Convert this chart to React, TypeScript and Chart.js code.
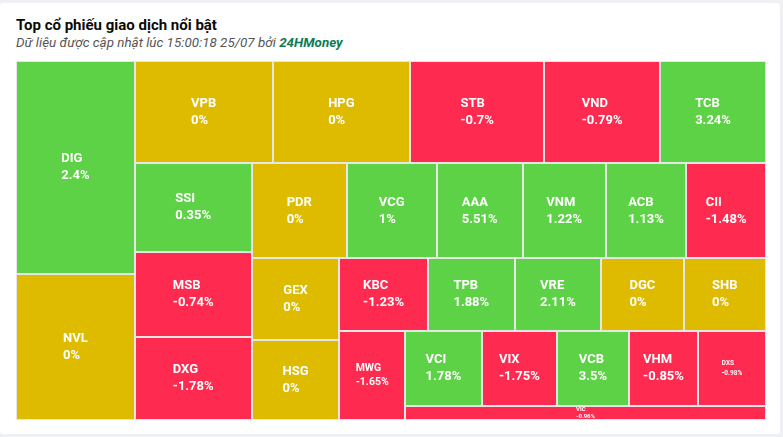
import { useEffect, useRef } from "react";
import { Chart, registerables } from "chart.js";

Chart.register(...registerables);

// ---- Data ----
const tickers = [
  "DIG", "NVL", "VPB", "HPG", "STB", "VND", "TCB", "SSI", "MSB", "DXG",
  "PDR", "VCG", "AAA", "VNM", "ACB", "CII", "GEX", "HSG", "KBC", "TPB",
  "VRE", "DGC", "SHB", "MWG", "VCI", "VIX", "VCB", "VHM", "DXS", "VIC",
];
const tradingValues = [
  253.2, 173.0, 141.2, 140.5, 137.4, 118.4, 108.4, 103.4, 100.2, 96.8,
  90.3, 85.5, 81.7, 78.9, 76.6, 75.7, 71.6, 70.1, 64.3, 63.3,
  62.7, 60.0, 59.9, 58.5, 57.5, 56.5, 54.0, 51.8, 51.0, 50.5,
];
const changes = [
  2.4, 0, 0, 0, -0.7, -0.79, 3.24, 0.35, -0.74, -1.78,
  0, 1, 5.51, 1.22, 1.13, -1.48, 0, 0, -1.23, 1.88,
  2.11, 0, 0, -1.65, 1.78, -1.75, 3.5, -0.85, -0.98, -0.96,
];

// ---- Styles ----
const UP = "#5ed246";
const FLAT = "#dfbb00";
const DOWN = "#ff2a50";
const BORDER = "#e6e6e6";
const AREA_W = 750;
const AREA_H = 359;
// [font size, line gap] for labels that the source renders smaller
const labelFontOverride: Record<string, [number, number]> = {
  MWG: [10.5, 13.5],
  DXS: [6.5, 10],
  VIC: [6, 6.5],
};

type Rect = { x: number; y: number; w: number; h: number };

// Squarified layout with alternating direction (Highcharts-style)
function layoutTreemap(values: number[], W: number, H: number): Rect[] {
  const total = values.reduce((a, b) => a + b, 0);
  const out: Rect[] = [];
  const plot = { x: 0, y: 0 };
  const ar = (a: number, b: number) => Math.max(a / b, b / a);
  const g: any = {
    height: H, width: W, direction: 0, total: 0,
    nW: 0, lW: 0, nH: 0, lH: 0, elArr: [] as number[],
    lP: { total: 0, lH: 0, nH: 0, lW: 0, nW: 0, nR: 0, lR: 0 },
  };
  const addElement = (el: number) => {
    g.lP.total = g.elArr[g.elArr.length - 1];
    g.total = g.total + el;
    if (g.direction === 0) {
      g.lW = g.nW;
      g.lP.lH = g.lP.total / g.lW;
      g.lP.lR = ar(g.lW, g.lP.lH);
      g.nW = g.total / g.height;
      g.lP.nH = g.lP.total / g.nW;
      g.lP.nR = ar(g.nW, g.lP.nH);
    } else {
      g.lH = g.nH;
      g.lP.lW = g.lP.total / g.lH;
      g.lP.lR = ar(g.lP.lW, g.lH);
      g.nH = g.total / g.width;
      g.lP.nW = g.lP.total / g.nH;
      g.lP.nR = ar(g.lP.nW, g.nH);
    }
    g.elArr.push(el);
  };
  const calc = (last: boolean) => {
    let gW = g.lW, gH = g.lH, keep: number | undefined;
    const end = g.elArr.length - 1;
    if (last) { gW = g.nW; gH = g.nH; } else { keep = g.elArr[end]; }
    g.elArr.forEach((p: number, i: number) => {
      if (last || i < end) {
        let pW: number, pH: number;
        if (g.direction === 0) { pW = gW; pH = p / pW; } else { pH = gH; pW = p / pH; }
        out.push({ x: plot.x, y: plot.y, w: pW, h: pH });
        if (g.direction === 0) plot.y += pH; else plot.x += pW;
      }
    });
    g.nW = 0; g.lW = 0; g.elArr = []; g.total = 0;
    if (g.direction === 0) g.width -= gW; else g.height -= gH;
    plot.y = H - g.height;
    plot.x = W - g.width;
    g.direction = 1 - g.direction;
    if (!last) addElement(keep as number);
  };
  values.forEach((v, i) => {
    addElement((W * H * v) / total);
    if (g.lP.nR > g.lP.lR) calc(false);
    if (i === values.length - 1) calc(true);
  });
  return out;
}

export default function App() {
  const ref = useRef<HTMLCanvasElement | null>(null);

  useEffect(() => {
    if (!ref.current) return;
    const rects = layoutTreemap(tradingValues, AREA_W, AREA_H);
    const colorFor = (c: number) => (c > 0 ? UP : c < 0 ? DOWN : FLAT);

    const treemapPlugin = {
      id: "treemapCells",
      afterDatasetsDraw(chart: any) {
        const { ctx } = chart;
        const xs = chart.scales.x;
        const ys = chart.scales.y;
        ctx.save();
        rects.forEach((r, i) => {
          const xa = Math.round(xs.getPixelForValue(r.x));
          const xb = Math.round(xs.getPixelForValue(r.x + r.w));
          const ya = Math.round(ys.getPixelForValue(r.y));
          const yb = Math.round(ys.getPixelForValue(r.y + r.h));
          const x0 = Math.min(xa, xb), x1 = Math.max(xa, xb);
          const y0 = Math.min(ya, yb), y1 = Math.max(ya, yb);
          ctx.fillStyle = colorFor(changes[i]);
          ctx.fillRect(x0, y0, x1 - x0, y1 - y0);
          ctx.strokeStyle = BORDER;
          ctx.lineWidth = 1;
          ctx.strokeRect(x0 + 0.5, y0 + 0.5, x1 - x0 - 1, y1 - y0 - 1);
        });
        rects.forEach((r, i) => {
          const ov = labelFontOverride[tickers[i]];
          const fs = ov ? ov[0] : 13;
          const lh = ov ? ov[1] : 17;
          const cx = xs.getPixelForValue(r.x + r.w / 2);
          const cy = ys.getPixelForValue(r.y + r.h / 2);
          ctx.font = `bold ${fs}px Roboto, "Noto Sans", sans-serif`;
          const l1 = tickers[i];
          const l2 = `${changes[i]}%`;
          const bw = Math.max(ctx.measureText(l1).width, ctx.measureText(l2).width);
          const left = cx - bw / 2;
          ctx.fillStyle = "#ffffff";
          ctx.textAlign = "left";
          ctx.textBaseline = "middle";
          ctx.fillText(l1, left, cy - lh / 2);
          ctx.fillText(l2, left, cy + lh / 2);
        });
        ctx.restore();
      },
    };

    const chart = new Chart(ref.current, {
      type: "scatter",
      data: {
        datasets: [
          {
            label: "Giá trị giao dịch",
            data: rects.map((r) => ({ x: r.x + r.w / 2, y: r.y + r.h / 2 })),
            pointRadius: 0,
            pointHoverRadius: 0,
          },
        ],
      },
      options: {
        animation: false,
        responsive: true,
        maintainAspectRatio: false,
        layout: { padding: 0 },
        plugins: { legend: { display: false }, tooltip: { enabled: false } },
        scales: {
          x: { type: "linear", min: 0, max: AREA_W, display: false },
          y: { type: "linear", min: 0, max: AREA_H, reverse: true, display: false },
        },
      },
      plugins: [treemapPlugin],
    });
    return () => chart.destroy();
  }, []);

  return (
    <div style={{ position: "fixed", left: 0, top: 0, width: 783, height: 437, background: "#eef0f3", overflow: "hidden" }}>
      <div style={{ position: "absolute", left: 0, top: 3, width: 780, height: 431, background: "#ffffff", borderRadius: 3 }} />
      <div
        style={{
          position: "absolute", left: 16, top: 16, height: 18, lineHeight: "18px",
          fontFamily: "Roboto, sans-serif", fontWeight: 700, fontSize: 15, color: "#0a0a0a", whiteSpace: "nowrap",
        }}
      >
        Top cổ phiếu giao dịch nổi bật
      </div>
      <div
        style={{
          position: "absolute", left: 16, top: 35, height: 16, lineHeight: "16px",
          fontFamily: "Roboto, sans-serif", fontStyle: "italic", fontSize: 13.4, color: "#555", whiteSpace: "nowrap",
        }}
      >
        Dữ liệu được cập nhật lúc 15:00:18 25/07 bởi{" "}
        <span style={{ color: "#0f7b55", fontWeight: 700 }}>24HMoney</span>
      </div>
      <div style={{ position: "absolute", left: 16, top: 61, width: AREA_W, height: AREA_H }}>
        <canvas ref={ref} />
      </div>
    </div>
  );
}
